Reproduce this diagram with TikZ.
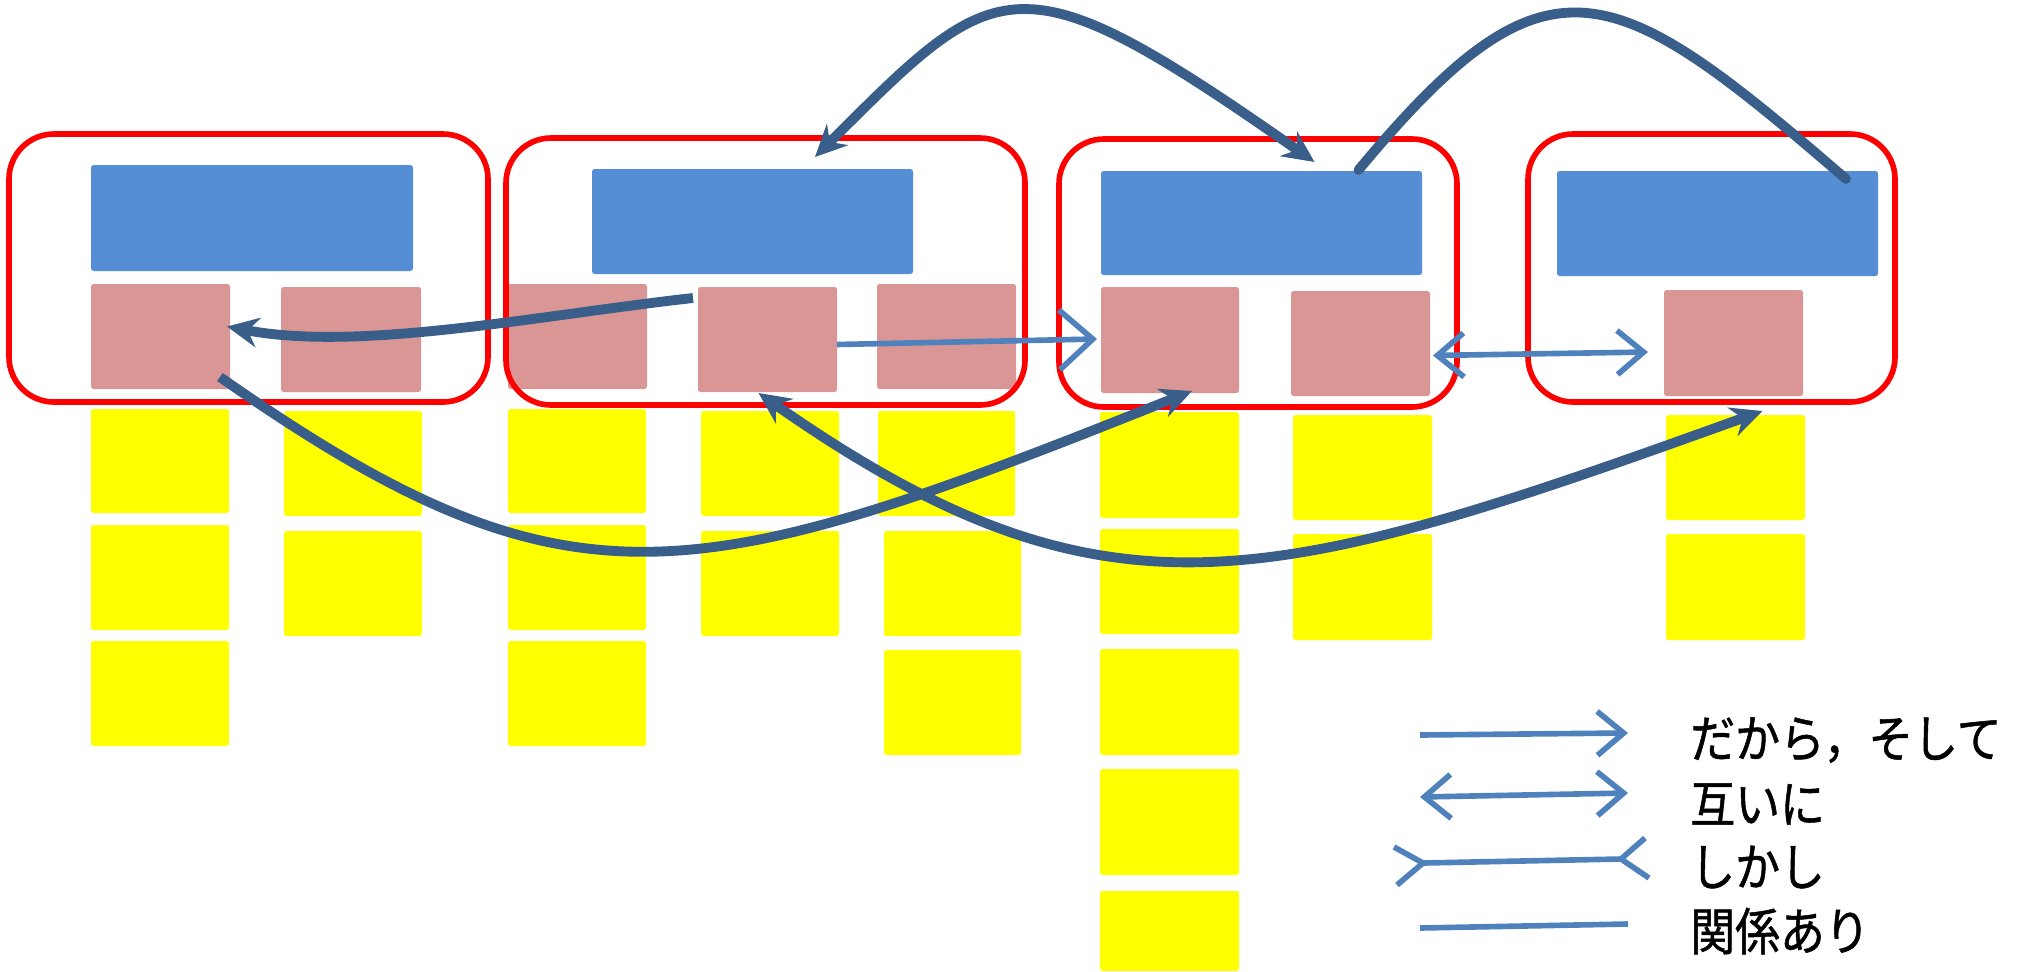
\documentclass[tikz,border=0pt]{standalone}
\usepackage{fontspec}
\newfontfamily\jpfont[FakeStretch=0.88,FakeBold=1]{Noto Sans CJK JP}
\usetikzlibrary{arrows.meta,fit,calc}
\definecolor{redc}{RGB}{255,0,0}
\definecolor{bluec}{RGB}{85,142,213}
\definecolor{pinkc}{RGB}{217,150,148}
\definecolor{yellowc}{RGB}{255,255,0}
\definecolor{darkc}{RGB}{57,94,138}
\definecolor{lightc}{RGB}{79,129,189}
\tikzset{
 dk/.tip={Stealth[length=18pt,width=17pt,inset=6pt]},
 lb/.tip={Straight Barb[length=15pt,width=25pt]},
 lbb/.tip={Straight Barb[length=19pt,width=34pt]},
}
\begin{document}
\begin{tikzpicture}[x=0.02cm,y=-0.02cm,
 box/.style={inner sep=0pt, outer sep=0pt, rounded corners=1.5pt},
 redbox/.style={box, draw=redc, line width=3.2pt, rounded corners=0.9cm},
 topbox/.style={box, fill=bluec},
 pinkbox/.style={box, fill=pinkc},
 ybox/.style={box, fill=yellowc},
 darkline/.style={draw=darkc, line width=5.6pt},
 lightline/.style={draw=lightc, line width=3.2pt},
 legtext/.style={anchor=west, inner sep=0pt, font=\jpfont\fontsize{29}{33}\selectfont}
]
\useasboundingbox (0,0) rectangle (2028,971);

% yellow cards
\node[ybox, fit={(91,409) (229,513)}] (y1a) {};
\node[ybox, fit={(91,525) (229,630)}] (y1b) {};
\node[ybox, fit={(91,641) (229,746)}] (y1c) {};
\node[ybox, fit={(284,411) (422,516)}] (y2a) {};
\node[ybox, fit={(284,531) (422,636)}] (y2b) {};
\node[ybox, fit={(508,409) (646,513)}] (y3a) {};
\node[ybox, fit={(508,525) (646,630)}] (y3b) {};
\node[ybox, fit={(508,641) (646,746)}] (y3c) {};
\node[ybox, fit={(701,411) (839,516)}] (y4a) {};
\node[ybox, fit={(701,531) (839,636)}] (y4b) {};
\node[ybox, fit={(878,411) (1015,516)}] (y5a) {};
\node[ybox, fit={(884,531) (1021,636)}] (y5b) {};
\node[ybox, fit={(884,650) (1021,755)}] (y5c) {};
\node[ybox, fit={(1100,412) (1239,518)}] (y6a) {};
\node[ybox, fit={(1100,529) (1239,634)}] (y6b) {};
\node[ybox, fit={(1100,649) (1239,755)}] (y6c) {};
\node[ybox, fit={(1100,769) (1239,875)}] (y6d) {};
\node[ybox, fit={(1100,891) (1239,971)}] (y6e) {};
\node[ybox, fit={(1293,415) (1432,520)}] (y7a) {};
\node[ybox, fit={(1293,534) (1432,640)}] (y7b) {};
\node[ybox, fit={(1666,415) (1805,520)}] (y8a) {};
\node[ybox, fit={(1666,534) (1805,640)}] (y8b) {};

% blue headers
\node[topbox, fit={(91,165) (413,271)}] (b1) {};
\node[topbox, fit={(592,169) (913,274)}] (b2) {};
\node[topbox, fit={(1101,171) (1422,275)}] (b3) {};
\node[topbox, fit={(1557,171) (1878,276)}] (b4) {};

% pink cards
\node[pinkbox, fit={(91,284) (230,389)}] (p1a) {};
\node[pinkbox, fit={(281,287) (421,392)}] (p1b) {};
\node[pinkbox, fit={(508,284) (647,389)}] (p2a) {};
\node[pinkbox, fit={(698,287) (837,392)}] (p2b) {};
\node[pinkbox, fit={(877,284) (1016,389)}] (p2c) {};
\node[pinkbox, fit={(1101,287) (1239,393)}] (p3a) {};
\node[pinkbox, fit={(1291,291) (1430,396)}] (p3b) {};
\node[pinkbox, fit={(1664,290) (1803,396)}] (p4) {};

% red groups
\node[redbox, fit={(9,134) (488,402)}] (r1) {};
\node[redbox, fit={(506,138) (1025,405)}] (r2) {};
\node[redbox, fit={(1059,139) (1457,407)}] (r3) {};
\node[redbox, fit={(1528,134) (1895,402)}] (r4) {};

% light connectors
\draw[lightline,-lbb] ($(p2b.east)+(0,5)$) -- ($(p3a.west)+(-4,-1)$);
\draw[lightline,lb-lb] ($(p3b.east)+(3,12)$) -- ($(p4.west)+(-16,9)$);

% dark connectors
\draw[darkline,-dk] ($(p2b.north west)+(-5,11)$) .. controls (540,315) and (360,352) .. ($(p1a.east)+(-3,-10)$);
\draw[darkline,-dk] ($(p1a.south east)+(-10,-12)$) .. controls (570,622) and (692,591) .. ($(p3a.south)+(22,-2)$);
\draw[darkline,dk-dk] ($(p2b.south)+(-9,1)$) .. controls (1107,637) and (1271,588) .. ($(p4.south)+(29,15)$);
\draw[darkline,dk-dk] ($(b2.north east)+(-98,-12)$) .. controls (999,-27) and (1016,-47) .. ($(b3.north)+(53,-9)$);
\draw[darkline,line cap=round] ($(b3.north)+(97,-1)$) .. controls (1548,-58) and (1611,-24) .. ($(b4.north east)+(-32,8)$);

% legend
\coordinate (g1a) at (1420,735); \coordinate (g1b) at (1628,733);
\coordinate (g2a) at (1420,797); \coordinate (g2b) at (1628,793);
\coordinate (g3a) at (1423,863); \coordinate (g3b) at (1621,859);
\coordinate (g4a) at (1420,928); \coordinate (g4b) at (1628,924);
\draw[lightline,-lb] (g1a) -- (g1b);
\draw[lightline,lb-lb] (g2a) -- (g2b);
\draw[lightline] (g3a) -- (g3b);
\draw[lightline] ($(g3a)+(-29,-16)$) -- (g3a) -- ($(g3a)+(-26,22)$);
\draw[lightline] ($(g3b)+(24,-21)$) -- (g3b) -- ($(g3b)+(28,19)$);
\draw[lightline] (g4a) -- (g4b);

\node[legtext] (t1) at (1690,740) {だから，そして};
\node[legtext] (t2) at (1690,804) {互いに};
\node[legtext] (t3) at (1690,867) {しかし};
\node[legtext] (t4) at (1690,931) {関係あり};
\end{tikzpicture}
\end{document}
